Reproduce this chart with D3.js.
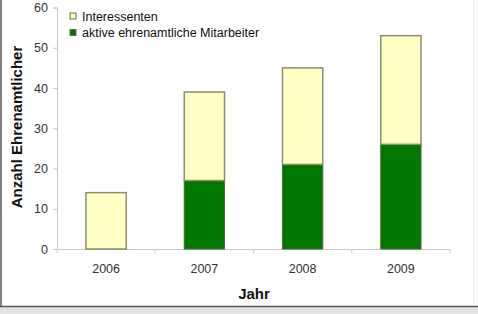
<!DOCTYPE html>
<html><head><meta charset="utf-8">
<script src="https://cdn.jsdelivr.net/npm/d3@7"></script>
<style>body{margin:0;background:#fff}svg{display:block}</style>
</head><body>
<svg id="c" width="478" height="314"></svg>
<script>
const years = ["2006","2007","2008","2009"];
const aktive = [0,17,21,26];
const interessenten = [14,22,24,27];
const yTicks = [0,10,20,30,40,50,60];
const seriesNames = ["Interessenten","aktive ehrenamtliche Mitarbeiter"];
const colors = {aktive:"#007800", interessenten:"#ffffc6"};
const FONT = "Arial, 'Liberation Sans', sans-serif";

const svg = d3.select("#c");
// background frame
svg.append("rect").attr("x",0).attr("y",306).attr("width",478).attr("height",8).attr("fill","#e3e3e3");
svg.append("line").attr("x1",0).attr("x2",478).attr("y1",306.5).attr("y2",306.5).attr("stroke","#555").attr("stroke-width",1.5);
svg.append("line").attr("x1",1).attr("x2",1).attr("y1",0).attr("y2",306).attr("stroke","#555").attr("stroke-width",1.5);
svg.append("line").attr("x1",473.5).attr("x2",473.5).attr("y1",0).attr("y2",306).attr("stroke","#eee").attr("stroke-width",1);

const x0 = 57, x1 = 450;
const x = d3.scaleBand().domain(years).range([x0,x1]).paddingInner(0.59).paddingOuter(0.295);
const y = d3.scaleLinear().domain([0,60]).range([249,7.5]);

// y axis
const ya = svg.append("g").attr("transform",`translate(${x0},0)`)
  .call(d3.axisLeft(y).tickValues(yTicks).tickSize(4).tickPadding(5));
ya.select(".domain").attr("stroke","#c8c8c8");
ya.selectAll(".tick line").attr("stroke","#c8c8c8");
ya.selectAll("text").attr("font-family",FONT).attr("font-size",12.5).attr("fill","#333");

// x axis
const xa = svg.append("g").attr("transform",`translate(0,${y(0)})`);
xa.append("line").attr("x1",x0).attr("x2",x1).attr("y1",0.5).attr("y2",0.5).attr("stroke","#c8c8c8");
const step = (x1-x0)/years.length;
d3.range(years.length+1).forEach(i=>{
  xa.append("line").attr("x1",x0+i*step).attr("x2",x0+i*step).attr("y1",0).attr("y2",4).attr("stroke","#c8c8c8");
});
xa.selectAll("text.lbl").data(years).join("text").attr("class","lbl")
  .attr("x",d=>x(d)+x.bandwidth()/2).attr("y",24).attr("text-anchor","middle")
  .attr("font-family",FONT).attr("font-size",12.5).attr("fill","#333").text(d=>d);

// stacked bars
const data = years.map((yr,i)=>({yr, a:aktive[i], b:interessenten[i]}));
const g = svg.append("g");
data.forEach(d=>{
  const bx = x(d.yr), bw = x.bandwidth();
  if(d.a>0) g.append("rect").attr("x",bx).attr("y",y(d.a)).attr("width",bw).attr("height",y(0)-y(d.a))
    .attr("fill",colors.aktive).attr("stroke","#4a6a3a").attr("stroke-width",1);
  g.append("rect").attr("x",bx).attr("y",y(d.a+d.b)).attr("width",bw).attr("height",y(d.a)-y(d.a+d.b))
    .attr("fill",colors.interessenten).attr("stroke","#8c8c70").attr("stroke-width",1.5);
});

// legend
const leg = svg.append("g");
const legColors = [colors.interessenten, colors.aktive];
seriesNames.forEach((n,i)=>{
  const yy = 16 + i*16.5;
  leg.append("rect").attr("x",70).attr("y",yy-3).attr("width",6).attr("height",6)
    .attr("fill",legColors[i]).attr("stroke","#6a6a50").attr("stroke-width",1);
  leg.append("text").attr("x",82).attr("y",yy+4.5).attr("font-family",FONT)
    .attr("font-size",12.5).attr("fill","#111").text(n);
});

// axis titles
svg.append("text").attr("transform","translate(22,127) rotate(-90)").attr("text-anchor","middle")
  .attr("font-family",FONT).attr("font-weight","bold").attr("font-size",15).attr("fill","#111")
  .text("Anzahl Ehrenamtlicher");
svg.append("text").attr("x",254).attr("y",299).attr("text-anchor","middle")
  .attr("font-family",FONT).attr("font-weight","bold").attr("font-size",15).attr("fill","#111")
  .text("Jahr");
</script>
</body></html>
